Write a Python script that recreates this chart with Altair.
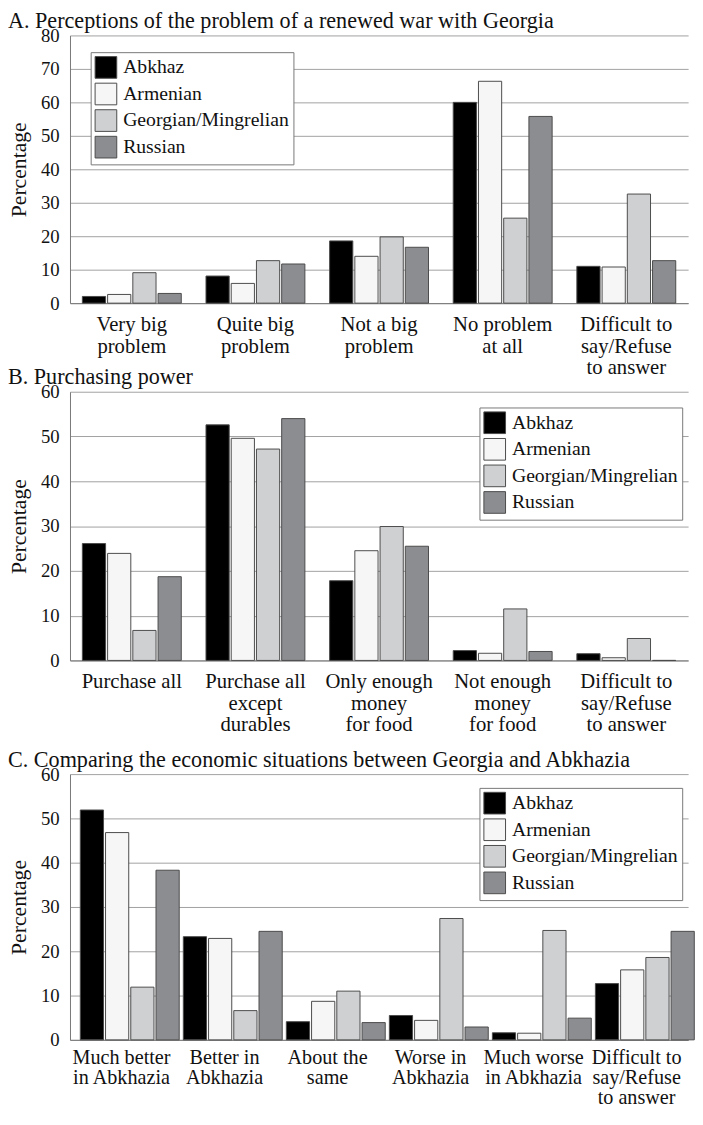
import altair as alt
import pandas as pd

FONT = "Liberation Serif"

groups = ["Abkhaz", "Armenian", "Georgian/Mingrelian", "Russian"]
group_colors = ["#000000", "#f6f6f6", "#cfd0d2", "#8c8d91"]

# Panel A
a_title = "A. Perceptions of the problem of a renewed war with Georgia"
a_cats = ["Very big|problem", "Quite big|problem", "Not a big|problem",
          "No problem|at all", "Difficult to|say/Refuse|to answer"]
a_abkhaz = [2.0, 8.1, 18.6, 60.0, 11.0]
a_armenian = [2.6, 5.9, 14.0, 66.3, 10.8]
a_georgian = [9.1, 12.7, 19.8, 25.4, 32.6]
a_russian = [2.9, 11.7, 16.7, 55.8, 12.7]

# Panel B
b_title = "B. Purchasing power"
b_cats = ["Purchase all", "Purchase all|except|durables", "Only enough|money|for food",
          "Not enough|money|for food", "Difficult to|say/Refuse|to answer"]
b_abkhaz = [26.1, 52.6, 17.8, 2.2, 1.5]
b_armenian = [23.9, 49.6, 24.5, 1.6, 0.6]
b_georgian = [6.7, 47.2, 29.9, 11.5, 4.9]
b_russian = [18.7, 54.0, 25.5, 2.0, 0.0]

# Panel C
c_title = "C. Comparing the economic situations between Georgia and Abkhazia"
c_cats = ["Much better|in Abkhazia", "Better in|Abkhazia", "About the|same",
          "Worse in|Abkhazia", "Much worse|in Abkhazia", "Difficult to|say/Refuse|to answer"]
c_abkhaz = [51.9, 23.3, 4.1, 5.5, 1.6, 12.7]
c_armenian = [46.8, 22.9, 8.7, 4.4, 1.5, 15.8]
c_georgian = [11.9, 6.6, 11.0, 27.4, 24.7, 18.6]
c_russian = [38.3, 24.5, 3.9, 2.9, 4.9, 24.5]


def make_df(cats, series):
    rows = []
    for ci, cat in enumerate(cats):
        for g, vals in zip(groups, series):
            rows.append({"category": cat, "group": g, "value": vals[ci]})
    return pd.DataFrame(rows)


def panel(cats, series, title, ymax, height, lx, ly, label_size=21,
          label_pad=11, line_h=21.7):
    df = make_df(cats, series)
    return alt.Chart(df).mark_bar(stroke="#4a4a4a", strokeWidth=1).encode(
        x=alt.X("category:N", sort=cats, title=None,
                scale=alt.Scale(paddingInner=0.2, paddingOuter=0.1),
                axis=alt.Axis(labelExpr="split(datum.label, '|')", labelAngle=0,
                              ticks=False, grid=False, labelPadding=label_pad,
                              labelFontSize=label_size, labelLineHeight=line_h,
                              labelColor="#111111", domainColor="#777777")),
        xOffset=alt.XOffset("group:N", sort=groups, scale=alt.Scale(paddingInner=0.08)),
        y=alt.Y("value:Q", scale=alt.Scale(domain=[0, ymax], nice=False),
                axis=alt.Axis(values=list(range(0, ymax + 1, 10)), title="Percentage",
                              ticks=False, labelPadding=11, labelFontSize=19,
                              titleFontSize=22, titleFontWeight="normal",
                              titlePadding=10, labelColor="#111111", titleColor="#111111",
                              gridColor="#a0a0a0", domainColor="#777777")),
        color=alt.Color("group:N", sort=groups,
                        scale=alt.Scale(domain=groups, range=group_colors),
                        legend=alt.Legend(title=None, orient="none", legendX=lx, legendY=ly,
                                          symbolType="square", symbolSize=484,
                                          symbolStrokeColor="#4a4a4a", symbolStrokeWidth=1,
                                          labelFontSize=20, labelColor="#111111",
                                          labelLimit=300,
                                          labelOffset=6, rowPadding=0, padding=4,
                                          fillColor="#ffffff", strokeColor="#777777")),
    ).properties(
        width=628, height=height,
        title=alt.Title(title, anchor="start", frame="bounds", fontSize=22.5,
                        fontWeight="normal", color="#111111", offset=-6),
    )


chart_a = panel(a_cats, [a_abkhaz, a_armenian, a_georgian, a_russian], a_title, 80, 272, 21, 17)
chart_b = panel(b_cats, [b_abkhaz, b_armenian, b_georgian, b_russian], b_title, 60, 273, 416, 16)
chart_c = panel(c_cats, [c_abkhaz, c_armenian, c_georgian, c_russian], c_title, 60, 270, 416, 14,
                label_size=20.5, label_pad=8, line_h=20.5)

inner = alt.vconcat(chart_b, chart_c, spacing=13.5).resolve_legend(color="independent")
chart = alt.vconcat(chart_a, inner, spacing=-12).resolve_legend(
    color="independent"
).properties(
    padding={"top": -7, "left": 0, "right": 0, "bottom": 0}
).configure(font=FONT).configure_view(stroke=None)

chart.save("out.html", embed_options={"renderer": "svg", "actions": False})
